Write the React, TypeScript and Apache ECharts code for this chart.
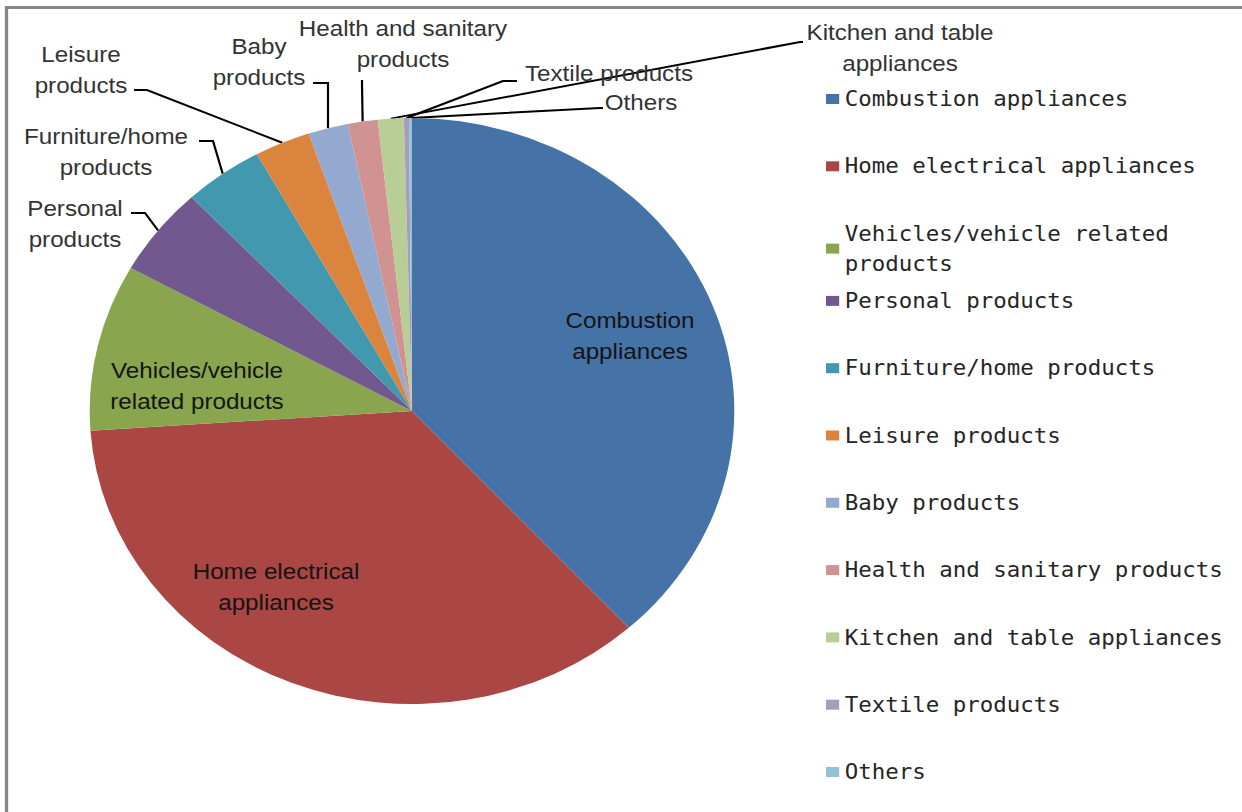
import React, { useEffect, useRef } from "react";
import * as echarts from "echarts";

// horizontal stretch of the original picture
const SX = 1.1;

const categories = [
  "Combustion appliances",
  "Home electrical appliances",
  "Vehicles/vehicle related products",
  "Personal products",
  "Furniture/home products",
  "Leisure products",
  "Baby products",
  "Health and sanitary products",
  "Kitchen and table appliances",
  "Textile products",
  "Others",
];

const values = [38.3, 35.7, 9.2, 4.9, 4.0, 2.8, 2.0, 1.5, 1.3, 0.25, 0.15];

const colors = [
  "#4572A7",
  "#AA4643",
  "#89A54E",
  "#71588F",
  "#4198AF",
  "#DB843D",
  "#93A9CF",
  "#D19392",
  "#B9CD96",
  "#A99BBD",
  "#92C3D5",
];

const sliceLabels = [
  "Combustion\nappliances",
  "Home electrical\nappliances",
  "Vehicles/vehicle\nrelated products",
  "Personal\nproducts",
  "Furniture/home\nproducts",
  "Leisure\nproducts",
  "Baby\nproducts",
  "Health and sanitary\nproducts",
  "Kitchen and table\nappliances",
  "Textile products",
  "Others",
];

const legendLabels = [
  "Combustion appliances",
  "Home electrical appliances",
  "Vehicles/vehicle related\nproducts",
  "Personal products",
  "Furniture/home products",
  "Leisure products",
  "Baby products",
  "Health and sanitary products",
  "Kitchen and table appliances",
  "Textile products",
  "Others",
];

// label block centres (picture px)
const labelCenters = [
  [630, 336],
  [276, 587],
  [197, 386],
  [75, 224],
  [106, 152],
  [81, 70],
  [259, 62],
  [403, 44],
  [900, 48],
  [609, 73],
  [641, 102],
];

// leader line bend / end points for outside labels (picture px)
const leaderBends = [
  [[145, 213], [131, 213]],
  [[213, 141], [199, 141]],
  [[147, 90], [134, 90]],
  [[328, 83], [313, 83]],
  [[362, 84], [362, 80]],
  [[800, 42], [803, 42]],
  [[503, 81], [517, 81]],
  [[600, 108], [603, 108]],
];

const LEGEND_TOP = 99;
const LEGEND_STEP = 67.3;

export default function App() {
  const ref = useRef<HTMLDivElement>(null);

  useEffect(() => {
    document.body.style.margin = "0";
    document.body.style.background = "#fff";
    const chart = echarts.init(ref.current as HTMLDivElement, null, { renderer: "svg" });

    const legends = categories.map((name, i) => ({
      data: [name],
      orient: "vertical",
      left: 826 / SX,
      top: LEGEND_TOP + i * LEGEND_STEP - 45,
      padding: 0,
      icon: "rect",
      itemWidth: 12,
      itemHeight: 10,
      selectedMode: false,
      formatter: () => " \n" + legendLabels[i] + "\n ",
      textStyle: {
        fontFamily: "DejaVu Sans Mono",
        fontSize: 20.4,
        lineHeight: 30,
        color: "#262626",
      },
    }));

    const option: any = {
      animation: false,
      backgroundColor: "#ffffff",
      graphic: [
        {
          type: "rect",
          silent: true,
          shape: { x: 6.5 / SX, y: 7.5, width: 3000, height: 3000 },
          style: { fill: "none", stroke: "#878787", lineWidth: 3 },
        },
      ],
      legend: legends,
      series: [
        {
          type: "pie",
          center: [412 / SX, 411],
          radius: 293,
          startAngle: 90,
          clockwise: true,
          avoidLabelOverlap: false,
          emphasis: { disabled: true },
          itemStyle: { borderWidth: 0 },
          label: {
            fontFamily: "Liberation Sans",
            fontSize: 22,
            lineHeight: 31,
            align: "center",
          },
          labelLine: {
            length: 10,
            length2: 10,
            lineStyle: { color: "#000", width: 2 },
          },
          data: categories.map((name, i) => ({
            name,
            value: values[i],
            itemStyle: { color: colors[i] },
            label: {
              formatter: sliceLabels[i],
              position: i < 3 ? "inside" : "outside",
              color: i < 3 ? "#141414" : "#333333",
            },
            labelLine: { show: i >= 3 },
          })),
          labelLayout: (params: any) => {
            const i = params.dataIndex;
            const c = labelCenters[i];
            const res: any = {
              x: c[0] / SX,
              y: c[1],
              align: "center",
              verticalAlign: "middle",
            };
            if (i >= 3) {
              const b = leaderBends[i - 3];
              const lp = params.labelLinePoints;
              const start =
                lp && lp[0] ? [lp[0][0], lp[0][1]] : [b[0][0] / SX, b[0][1]];
              res.labelLinePoints = [
                start,
                [b[0][0] / SX, b[0][1]],
                [b[1][0] / SX, b[1][1]],
              ];
            }
            return res;
          },
        },
      ],
    };

    chart.setOption(option);
    return () => {
      chart.dispose();
    };
  }, []);

  return (
    <div
      ref={ref}
      style={{
        position: "fixed",
        left: 0,
        top: 0,
        width: 1242 / SX,
        height: 812,
        transform: `scaleX(${SX})`,
        transformOrigin: "0 0",
      }}
    />
  );
}
